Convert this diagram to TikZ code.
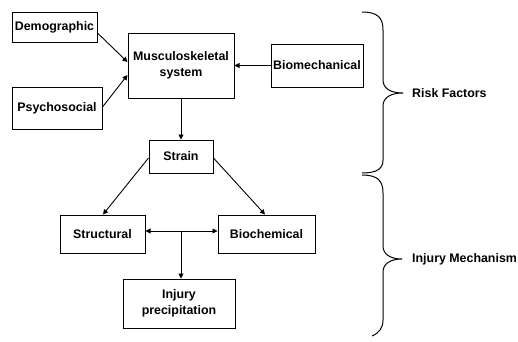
\documentclass[tikz,border=0pt]{standalone}
\usepackage{fontspec}
\setmainfont{Liberation Sans}
\usetikzlibrary{arrows.meta}
\begin{document}
\begin{tikzpicture}[x=1pt,y=-1pt,
  box/.style={draw,line width=1pt,inner sep=0pt,align=center,font=\fontsize{12.4}{15.5}\selectfont\bfseries},
  lbl/.style={font=\fontsize{12.4}{15}\selectfont\bfseries,anchor=west,inner sep=0pt},
  arr/.style={line width=0.9pt,-{Triangle[length=5pt,width=5pt]}},
  darr/.style={line width=0.9pt,{Triangle[length=5pt,width=5pt]}-{Triangle[length=5pt,width=5pt]}},
  brc/.style={line width=1pt}]
\useasboundingbox (0,0) rectangle (518,341);
\node[box,minimum width=85pt,minimum height=30pt] (dem) at (54.5,27) {Demographic};
\node[box,minimum width=90pt,minimum height=42pt] (psy) at (57,108) {Psychosocial};
\node[box,minimum width=106pt,minimum height=65pt] (mus) at (181,65.5) {Musculoskeletal\\system};
\node[box,minimum width=92pt,minimum height=43pt] (bio) at (317,65.5) {Biomechanical};
\node[box,minimum width=64pt,minimum height=33pt] (str) at (181,156.5) {Strain};
\node[box,minimum width=85pt,minimum height=38pt] (stc) at (102.5,234) {Structural};
\node[box,minimum width=97pt,minimum height=38pt] (bch) at (266.5,234) {Biochemical};
\node[box,minimum width=112pt,minimum height=49pt] (inj) at (179,303.5) {Injury\\precipitation};
\coordinate (mid) at (181,231);
\draw[arr] (dem.east|-0,33) -- (mus.west|-0,62);
\draw[arr] (psy.east|-0,107) -- (mus.west|-0,75);
\draw[arr] (bio.west) -- (mus.east|-bio.west);
\draw[arr] (mus.south) -- (str.north);
\draw[arr] (str.west|-0,158) -- (stc.north-|103,0);
\draw[arr] (str.east|-0,158) -- (bch.north-|265,0);
\draw[darr] (stc.east|-mid) -- (bch.west|-mid);
\draw[arr] (mid) -- (inj.north-|mid);
\draw[brc] (362,12) .. controls (378,12) and (383,18) .. (383,30) -- (383,80)
  .. controls (383,88) and (390,93) .. (403,93) coordinate (rtip)
  .. controls (390,93) and (383,98) .. (383,106) -- (383,160)
  .. controls (383,168) and (378,173) .. (362,173);
\draw[brc] (362,175) .. controls (378,175) and (383,181) .. (383,193) -- (383,246)
  .. controls (383,254) and (390,259) .. (402,259) coordinate (itip)
  .. controls (390,259) and (383,264) .. (383,272) -- (383,320)
  .. controls (383,328) and (379,333) .. (372,336);
\node[lbl] (rf) at (412,93) {Risk Factors};
\node[lbl] (im) at (412,259) {Injury Mechanism};
\end{tikzpicture}
\end{document}
